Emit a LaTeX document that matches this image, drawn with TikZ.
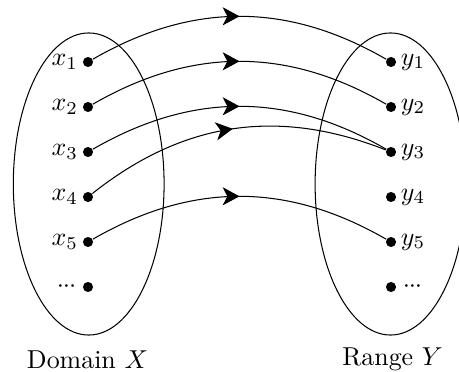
\documentclass[tikz,border=0pt]{standalone}
\usetikzlibrary{arrows.meta,decorations.markings}
\newcommand{\tightdots}{\mathord{\cdot}\mkern-0.8mu\mathord{\cdot}\mkern-0.8mu\mathord{\cdot}}
\begin{document}
\begin{tikzpicture}[x=0.386pt,y=-0.386pt,
  dot/.style={circle,fill,inner sep=0pt,minimum size=3.9pt},
  lab/.style={inner sep=1.5pt},
  midarrow/.style={postaction={decorate},
    decoration={markings,mark=at position 0.5 with
      {\arrow{Stealth[length=6.5pt,width=7pt,inset=1.8pt]}}}},
  mapsto/.style={midarrow,bend left=30}]
\useasboundingbox (0,0) rectangle (459,371);

% the two sets
\draw (88.7,184) ellipse [x radius=29.1pt, y radius=58.3pt];
\draw (390.5,184) ellipse [x radius=29.1pt, y radius=58.3pt];

% domain elements
\foreach \i/\y in {1/62,2/107,3/152,4/197,5/242}{
  \node[dot] (x\i) at (88,\y) {};
  \node[lab,anchor=east] (lx\i) at (x\i.west) {$x_\i$};
}
\node[dot] (x6) at (88,287) {};
\node[lab,anchor=east,inner sep=2.2pt] (lx6) at (x6.west) {$\tightdots$};

% range elements
\foreach \i/\y in {1/62,2/107,3/152,4/197,5/242}{
  \node[dot] (y\i) at (391,\y) {};
  \node[lab,anchor=west] (ly\i) at (y\i.east) {$y_\i$};
}
\node[dot] (y6) at (391,287) {};
\node[lab,anchor=west,inner sep=2.2pt] (ly6) at (y6.east) {$\tightdots$};

% the mapping
\draw[mapsto] (x1) to (y1);
\draw[mapsto] (x2) to (y2);
\draw[mapsto] (x3) to (y3);
\draw[mapsto] (x4) to (y3);
\draw[mapsto] (x5) to (y5);

% captions
\node[anchor=base] (dom) at (87.5,368.5) {Domain $X$};
\node[anchor=base] (ran) at (392.5,365) {Range $Y$};
\end{tikzpicture}
\end{document}
